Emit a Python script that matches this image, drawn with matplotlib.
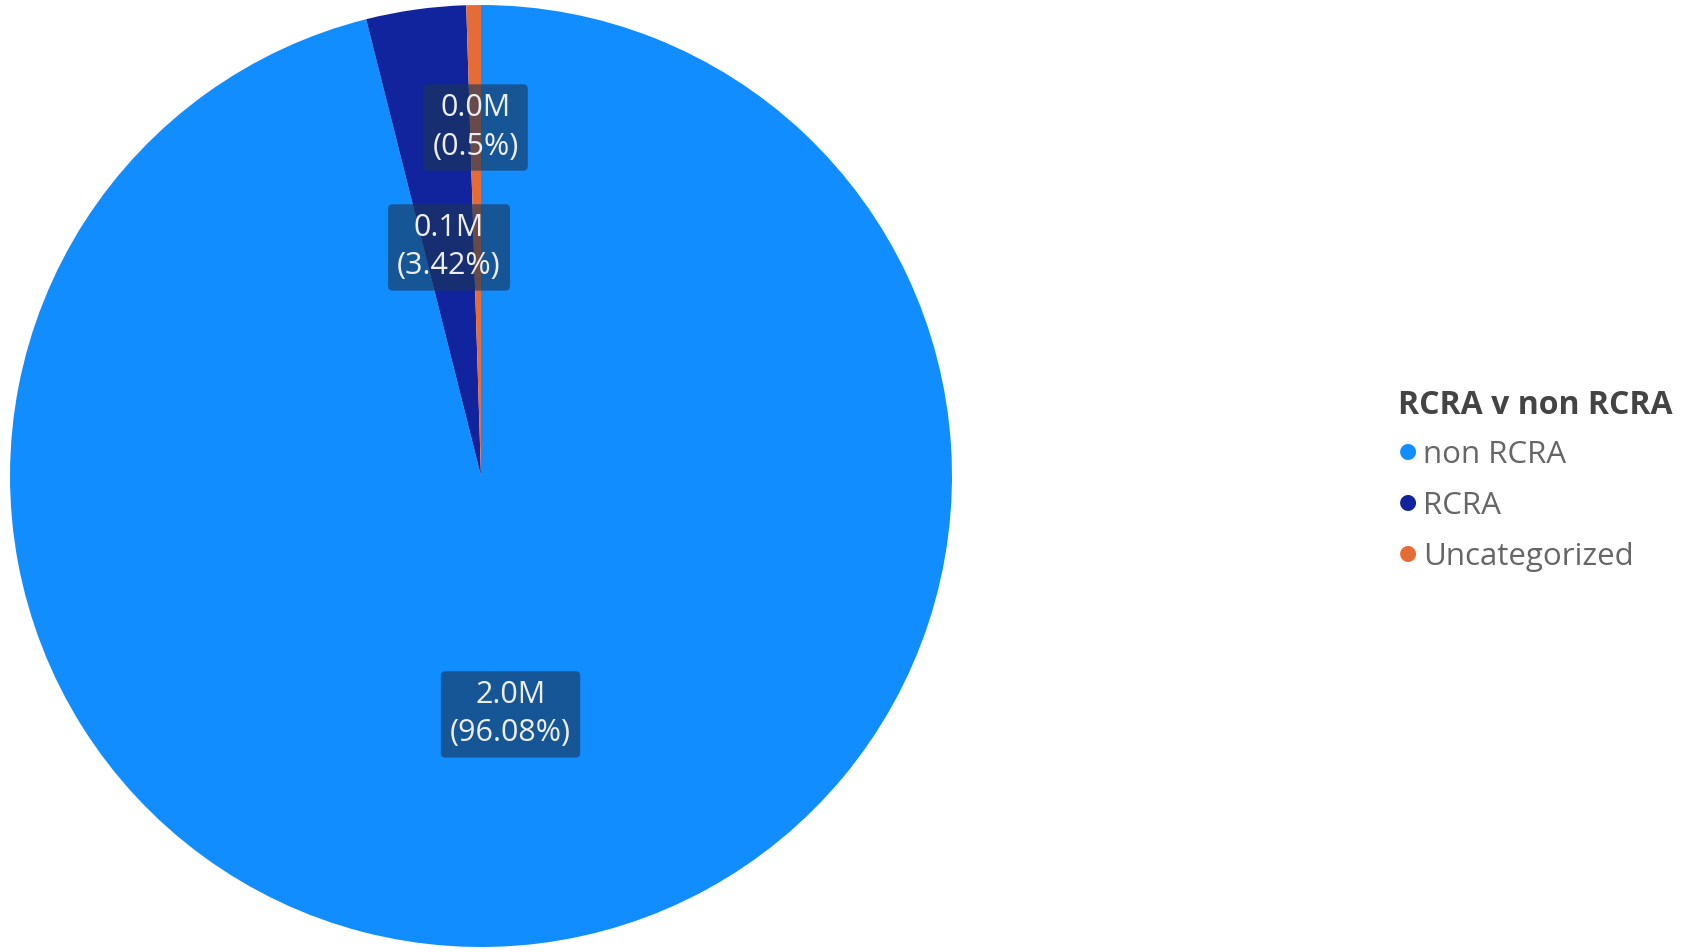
import matplotlib.pyplot as plt
import numpy as np

plt.rcParams['font.family'] = ['Open Sans', 'DejaVu Sans']

categories = ['non RCRA', 'RCRA', 'Uncategorized']
shares = [96.08, 3.42, 0.50]          # percent of total
amount_labels = ['2.0M', '0.1M', '0.0M']
colors = ['#118DFF', '#12239E', '#E66C37']
label_dist = [0.51, 0.49, 0.74]       # where Power BI put each data label

fig = plt.figure(figsize=(16.9, 9.52), dpi=100)
W, H = 1690, 952
cx, cy, r = 481, 476, 471
ax = fig.add_axes([(cx - r) / W, (H - cy - r) / H, 2 * r / W, 2 * r / H])

wedges, _ = ax.pie(shares, colors=colors, startangle=90, counterclock=False,
                   radius=1, wedgeprops=dict(linewidth=0))
ax.set_xlim(-1, 1)
ax.set_ylim(-1, 1)
ax.set_aspect('equal')
ax.axis('off')

# data labels inside the slices
for w, amt, pct, d in zip(wedges, amount_labels, shares, label_dist):
    mid = np.deg2rad((w.theta1 + w.theta2) / 2)
    x, y = d * np.cos(mid), d * np.sin(mid)
    ax.text(x, y, f'{amt}\n({pct:g}%)', ha='center', va='center',
            fontsize=22, color='#eeeeee', linespacing=1.35,
            bbox=dict(boxstyle='round,pad=0.3,rounding_size=0.15',
                      fc='#1b3556', ec='none', alpha=0.62))

# legend
fig.text(1398 / W, 1 - 406 / H, 'RCRA v non RCRA', fontsize=23, fontweight='bold',
         color='#444444', ha='left', va='center')
for i, (cat, col) in enumerate(zip(categories, colors)):
    y = 1 - (455 + i * 51) / H
    fig.text(1408 / W, y + 0.004, '\u25CF', fontsize=15, color=col, ha='center', va='center',
             family=['DejaVu Sans'])
    fig.text(1423 / W, y, cat, fontsize=22.5, color='#666666', ha='left', va='center')

fig.savefig('out.png', dpi=100, facecolor='white')
